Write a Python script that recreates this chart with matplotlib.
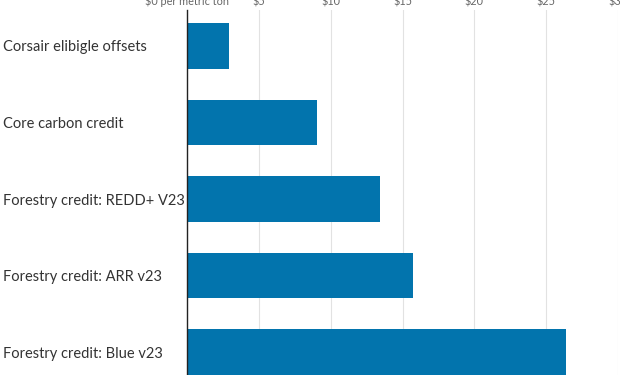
import matplotlib.pyplot as plt
from matplotlib.ticker import FuncFormatter

categories = [
    "Corsair elibigle offsets",
    "Core carbon credit",
    "Forestry credit: REDD+ V23",
    "Forestry credit: ARR v23",
    "Forestry credit: Blue v23",
]
values = [2.95, 9.05, 13.4, 15.7, 26.35]
xticks = [0, 5, 10, 15, 20, 25, 30]

plt.rcParams["font.family"] = ["Lato", "DejaVu Sans"]

fig = plt.figure(figsize=(6.2, 3.75), dpi=100)
ax = fig.add_axes([187 / 620, 0, 431 / 620, 365 / 375])

ypos = list(range(len(categories)))
ax.barh(ypos, values, height=0.6, color="#0274ad", zorder=2)

ax.set_xlim(0, 30)
ax.set_ylim(4.30, -0.47)

ax.xaxis.tick_top()
ax.set_xticks(xticks)
ax.xaxis.set_major_formatter(
    FuncFormatter(lambda v, p: "$0 per metric ton" if v == 0 else f"${v:.0f}"))
ax.tick_params(axis="x", length=0, pad=2, labelsize=7.8, labelcolor="#666666")
ax.grid(axis="x", color="#e2e2e2", linewidth=0.8, zorder=0)

ax.set_yticks(ypos)
ax.set_yticklabels(categories, ha="left")
ax.tick_params(axis="y", length=0, pad=132.5, labelsize=10.5, labelcolor="#333333")

for s in ["top", "right", "bottom"]:
    ax.spines[s].set_visible(False)
ax.spines["left"].set_color("#222222")
ax.spines["left"].set_linewidth(1)
ax.spines["left"].set_zorder(3)

fig.savefig("out.png", dpi=100)
